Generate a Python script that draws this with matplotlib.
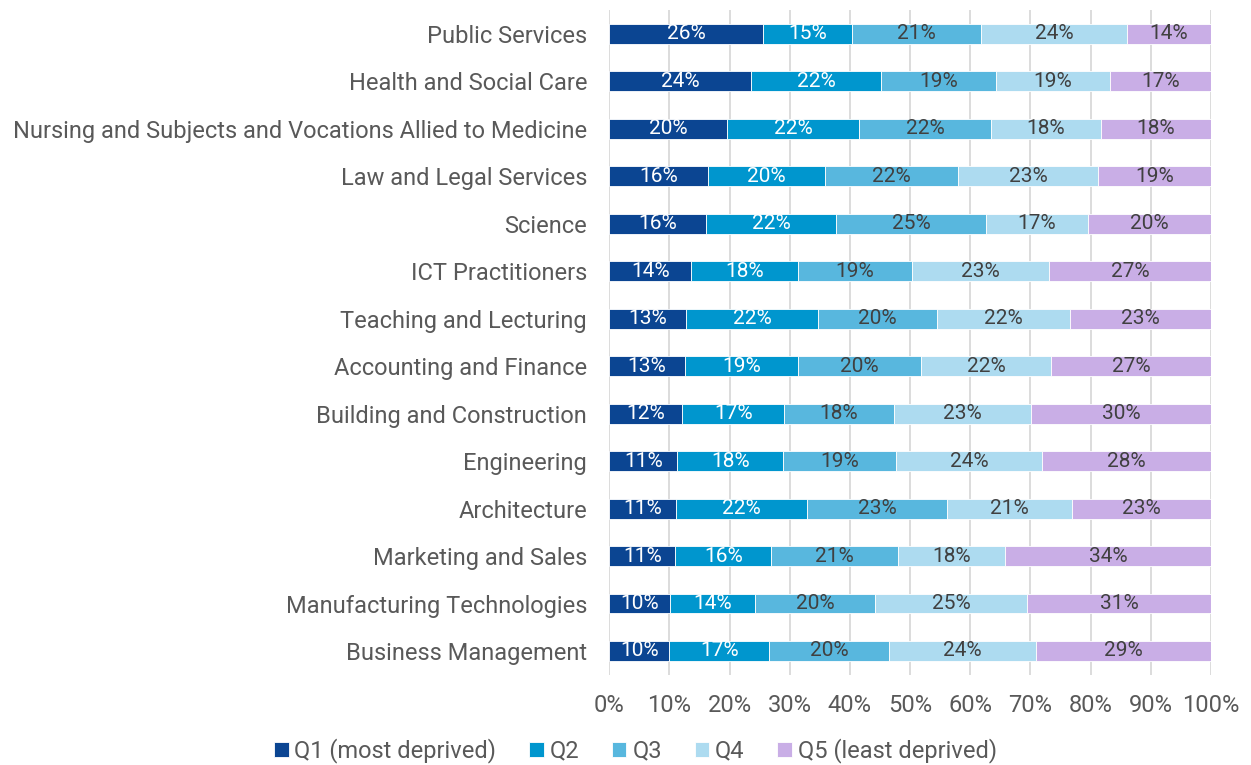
import matplotlib.pyplot as plt
import numpy as np

plt.rcParams['font.family'] = ['Roboto', 'DejaVu Sans']

subjects = ['Public Services', 'Health and Social Care',
            'Nursing and Subjects and Vocations Allied to Medicine',
            'Law and Legal Services', 'Science', 'ICT Practitioners',
            'Teaching and Lecturing', 'Accounting and Finance',
            'Building and Construction', 'Engineering', 'Architecture',
            'Marketing and Sales', 'Manufacturing Technologies',
            'Business Management']

q1 = [25.6, 23.6, 19.6, 16.4, 16.1, 13.6, 12.8, 12.6, 12.1, 11.3, 11.1, 11.0, 10.1, 10.0]
q2 = [14.8, 21.6, 21.9, 19.5, 21.6, 17.8, 21.9, 18.8, 17.0, 17.6, 21.8, 15.9, 14.2, 16.6]
q3 = [21.4, 19.0, 22.0, 22.1, 24.9, 18.9, 19.8, 20.4, 18.2, 18.8, 23.2, 21.1, 19.9, 19.9]
q4 = [24.2, 19.0, 18.2, 23.2, 17.0, 22.8, 22.1, 21.6, 22.8, 24.3, 20.8, 17.8, 25.2, 24.4]
q5 = [14.0, 16.8, 18.3, 18.8, 20.4, 26.9, 23.4, 26.6, 29.9, 28.0, 23.1, 34.2, 30.6, 29.1]

series = [q1, q2, q3, q4, q5]
legend_names = ['Q1 (most deprived)', 'Q2', 'Q3', 'Q4', 'Q5 (least deprived)']
colors = ['#0B4592', '#0096CE', '#58B7DE', '#ADDBF0', '#C9AEE6']
text_colors = ['white', 'white', '#404040', '#404040', '#404040']

fig = plt.figure(figsize=(12.51, 7.65), dpi=100)
ax = fig.add_axes([0.487, 0.118, 0.481, 0.869])

y = np.arange(len(subjects))
left = np.zeros(len(subjects))
for vals, name, c, tc in zip(series, legend_names, colors, text_colors):
    vals = np.array(vals)
    bars = ax.barh(y, vals, left=left, height=0.42, color=c, label=name,
                   edgecolor='white', linewidth=0.6, zorder=3)
    ax.bar_label(bars, labels=[f'{v:.0f}%' for v in vals], label_type='center',
                 color=tc, fontsize=15)
    left += vals

ax.set_xlim(0, 100)
ax.set_ylim(len(subjects) - 0.5, -0.5)
ax.set_xticks(np.arange(0, 101, 10))
ax.set_xticklabels([f'{t}%' for t in range(0, 101, 10)])
ax.set_yticks(y)
ax.set_yticklabels(subjects)
ax.tick_params(axis='both', length=0, labelsize=17, colors='#595959')
ax.tick_params(axis='y', pad=16)
ax.tick_params(axis='x', pad=14)
ax.xaxis.grid(True, color='#D9D9D9', linewidth=1.3, zorder=0)
for s in ax.spines.values():
    s.set_visible(False)

fig.legend(loc='lower center', bbox_to_anchor=(0.508, -0.025), ncol=5, frameon=False,
           fontsize=17, labelcolor='#595959', handlelength=0.6, handleheight=0.6,
           handletextpad=0.25, columnspacing=1.4)

fig.savefig('out.png', dpi=100)
